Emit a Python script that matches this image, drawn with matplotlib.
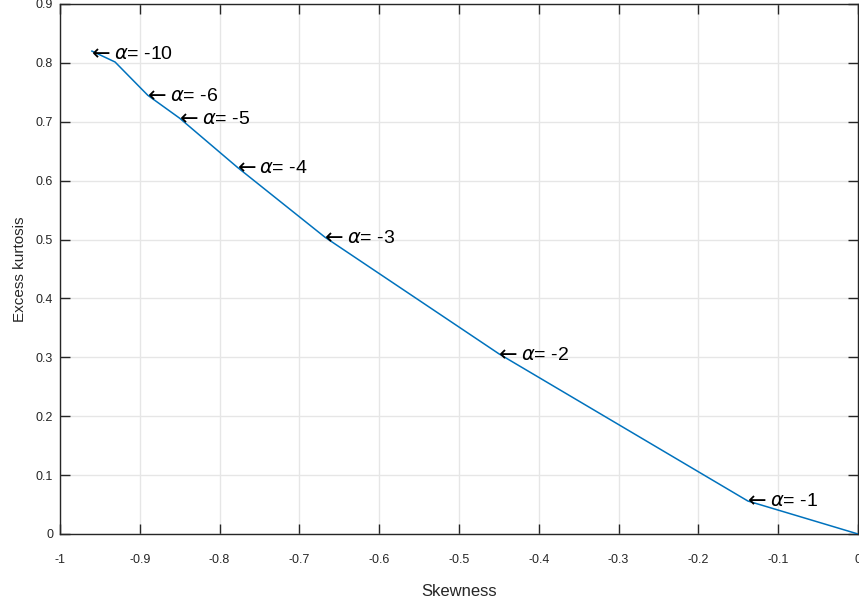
import matplotlib
matplotlib.use("Agg")
import matplotlib.pyplot as plt

# Curve vertices (skewness, excess kurtosis)
skew = [-0.960, -0.931, -0.890, -0.850, -0.778, -0.668, -0.450, -0.138, 0.0]
kurt = [0.820, 0.8015, 0.745, 0.706, 0.623, 0.504, 0.306, 0.056, 0.0]

# Annotated alpha points
alpha_vals = [-10, -6, -5, -4, -3, -2, -1]
alpha_skew = [-0.960, -0.890, -0.850, -0.778, -0.668, -0.450, -0.138]
alpha_kurt = [0.816, 0.745, 0.706, 0.623, 0.504, 0.306, 0.057]

xticks = [-1, -0.9, -0.8, -0.7, -0.6, -0.5, -0.4, -0.3, -0.2, -0.1, 0]
xticklabels = ['-1', '-0.9', '-0.8', '-0.7', '-0.6', '-0.5', '-0.4', '-0.3', '-0.2', '-0.1', '0']
yticks = [0, 0.1, 0.2, 0.3, 0.4, 0.5, 0.6, 0.7, 0.8, 0.9]
yticklabels = ['0', '0.1', '0.2', '0.3', '0.4', '0.5', '0.6', '0.7', '0.8', '0.9']

plt.rcParams['font.family'] = ['Liberation Sans', 'DejaVu Sans']
plt.rcParams['mathtext.fontset'] = 'dejavusans'

fig = plt.figure(figsize=(8.59, 6.08), dpi=100)
ax = fig.add_axes([60/859, (608-534)/608, (858-60)/859, (534-4)/608])

ax.plot(skew, kurt, color='#0072BD', lw=1.1, zorder=3)

for a, sx, ky in zip(alpha_vals, alpha_skew, alpha_kurt):
    ax.annotate(r'$\leftarrow$', xy=(sx, ky), xytext=(-3.2, 0.3),
                textcoords='offset points', ha='left', va='center',
                fontsize=16, color='black', zorder=4)
    ax.annotate(r'$\alpha$' + '= ' + str(a), xy=(sx, ky), xytext=(16.0, -1.0),
                textcoords='offset points', ha='left', va='center',
                fontsize=14, color='black', zorder=4)

ax.set_xlim(-1, 0)
ax.set_ylim(0, 0.9)
ax.set_xticks(xticks)
ax.set_xticklabels(xticklabels)
ax.set_yticks(yticks)
ax.set_yticklabels(yticklabels)

ax.grid(True, color='#e6e6e6', lw=1.0, zorder=0)
ax.set_axisbelow(True)

for s in ax.spines.values():
    s.set_color('#262626')
    s.set_linewidth(1.0)

ax.tick_params(axis='both', direction='in', length=7, width=1.0, color='#262626',
               labelcolor='#262626', labelsize=9, top=True, right=True)
ax.tick_params(axis='x', pad=14.5)
ax.tick_params(axis='y', pad=5)

ax.set_xlabel('Skewness', fontsize=12, color='#262626', labelpad=13)
ax.set_ylabel('Excess kurtosis', fontsize=11, color='#262626', labelpad=6)

fig.savefig('out.png', dpi=100)
